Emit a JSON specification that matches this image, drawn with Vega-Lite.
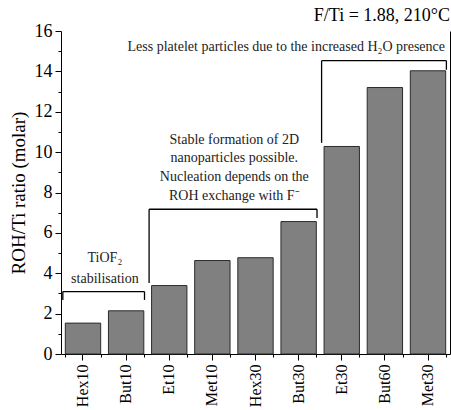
{
  "$schema": "https://vega.github.io/schema/vega-lite/v6.json",
  "autosize": "none",
  "width": 389,
  "height": 323,
  "padding": {"left": 61, "top": 31, "right": 1, "bottom": 56},
  "background": "white",
  "config": {
    "font": "Liberation Serif",
    "mark": {"font": "Liberation Serif"},
    "text": {"font": "Liberation Serif", "fontSize": 14},
    "view": {"stroke": null},
    "axis": {"domainColor": "black", "tickColor": "black", "labelColor": "black", "titleColor": "black", "grid": false, "labelFont": "Liberation Serif", "titleFont": "Liberation Serif", "titleFontWeight": "normal"}
  },
  "title": {"text": "F/Ti = 1.88, 210°C", "anchor": "end", "frame": "group", "fontSize": 18, "fontWeight": "normal", "font": "Liberation Serif", "color": "black", "offset": -3},
  "datasets": {
    "bars": [
      {"sample": "Hex10", "ratio": 1.53},
      {"sample": "But10", "ratio": 2.14},
      {"sample": "Et10", "ratio": 3.39},
      {"sample": "Met10", "ratio": 4.63},
      {"sample": "Hex30", "ratio": 4.77},
      {"sample": "But30", "ratio": 6.56},
      {"sample": "Et30", "ratio": 10.28},
      {"sample": "But60", "ratio": 13.2},
      {"sample": "Met30", "ratio": 14.03}
    ],
    "brackets": [
      {"from": "Hex10", "to": "But10", "top": 3.09, "leftEnd": 2.68, "rightEnd": 2.68},
      {"from": "Et10", "to": "But30", "top": 7.17, "leftEnd": 3.52, "rightEnd": 6.74},
      {"from": "Et30", "to": "Met30", "top": 14.53, "leftEnd": 10.46, "rightEnd": 14.08}
    ],
    "centerNotes": [
      {"at": "Hex10", "y": 4.76, "label": "TiOF₂"},
      {"at": "Hex10", "y": 3.72, "label": "stabilisation"},
      {"at": "Met10", "y": 10.58, "label": "Stable formation of 2D"},
      {"at": "Met10", "y": 9.72, "label": "nanoparticles possible."},
      {"at": "Met10", "y": 8.79, "label": "Nucleation depends on the"},
      {"at": "Met10", "y": 7.83, "label": "ROH exchange with F⁻"}
    ],
    "rightNotes": [
      {"at": "Met30", "y": 15.22, "label": "Less platelet particles due to the increased H₂O presence"}
    ]
  },
  "resolve": {"axis": {"x": "independent", "y": "independent"}},
  "layer": [
    {
      "data": {"name": "bars"},
      "mark": {"type": "bar", "fill": "#808080", "stroke": "#2b2b2b", "strokeWidth": 1},
      "encoding": {
        "x": {"field": "sample", "type": "nominal", "sort": null,
          "scale": {"paddingInner": 0.18, "paddingOuter": 0.1},
          "axis": {"title": null, "labelAngle": -90, "labelFontSize": 16, "labelPadding": 4, "tickSize": 6, "domainWidth": 1, "orient": "bottom"}},
        "y": {"field": "ratio", "type": "quantitative",
          "scale": {"domain": [0, 16], "nice": false},
          "axis": {"title": "ROH/Ti ratio (molar)", "titleFontSize": 19, "titlePadding": 6, "values": [0, 2, 4, 6, 8, 10, 12, 14, 16], "labelFontSize": 18, "labelPadding": 3, "tickSize": 6, "orient": "left"}}
      }
    },
    {
      "data": {"name": "brackets"},
      "mark": {"type": "rule", "color": "black", "strokeWidth": 1.3},
      "encoding": {
        "x": {"field": "from", "type": "nominal", "sort": null, "bandPosition": -0.07,
          "axis": {"title": null, "labels": false, "domain": false, "tickBand": "extent", "tickSize": 3, "orient": "bottom"}},
        "x2": {"field": "to", "bandPosition": 1.02},
        "y": {"field": "top", "type": "quantitative",
          "axis": {"title": null, "labels": false, "domain": false, "values": [1, 3, 5, 7, 9, 11, 13, 15], "tickSize": 3, "orient": "left"}}
      }
    },
    {
      "data": {"name": "brackets"},
      "mark": {"type": "rule", "color": "black", "strokeWidth": 1.3},
      "encoding": {
        "x": {"field": "from", "type": "nominal", "sort": null, "bandPosition": -0.07, "axis": null},
        "y": {"field": "top", "type": "quantitative", "axis": {"title": null, "labels": false, "ticks": false, "domain": true, "orient": "right"}},
        "y2": {"field": "leftEnd"}
      }
    },
    {
      "data": {"name": "brackets"},
      "mark": {"type": "rule", "color": "black", "strokeWidth": 1.3},
      "encoding": {
        "x": {"field": "to", "type": "nominal", "sort": null, "bandPosition": 1.02, "axis": null},
        "y": {"field": "top", "type": "quantitative", "axis": null},
        "y2": {"field": "rightEnd"}
      }
    },
    {
      "data": {"name": "centerNotes"},
      "mark": {"type": "text", "fontSize": 14, "font": "Liberation Serif", "color": "#222222", "align": "center", "baseline": "middle"},
      "encoding": {
        "x": {"field": "at", "type": "nominal", "sort": null, "bandPosition": 1.12, "axis": null},
        "y": {"field": "y", "type": "quantitative", "axis": null},
        "text": {"field": "label"}
      }
    },
    {
      "data": {"name": "rightNotes"},
      "mark": {"type": "text", "fontSize": 14, "font": "Liberation Serif", "color": "#222222", "align": "right", "baseline": "middle"},
      "encoding": {
        "x": {"field": "at", "type": "nominal", "sort": null, "bandPosition": 0.98, "axis": null},
        "y": {"field": "y", "type": "quantitative", "axis": null},
        "text": {"field": "label"}
      }
    }
  ]
}
